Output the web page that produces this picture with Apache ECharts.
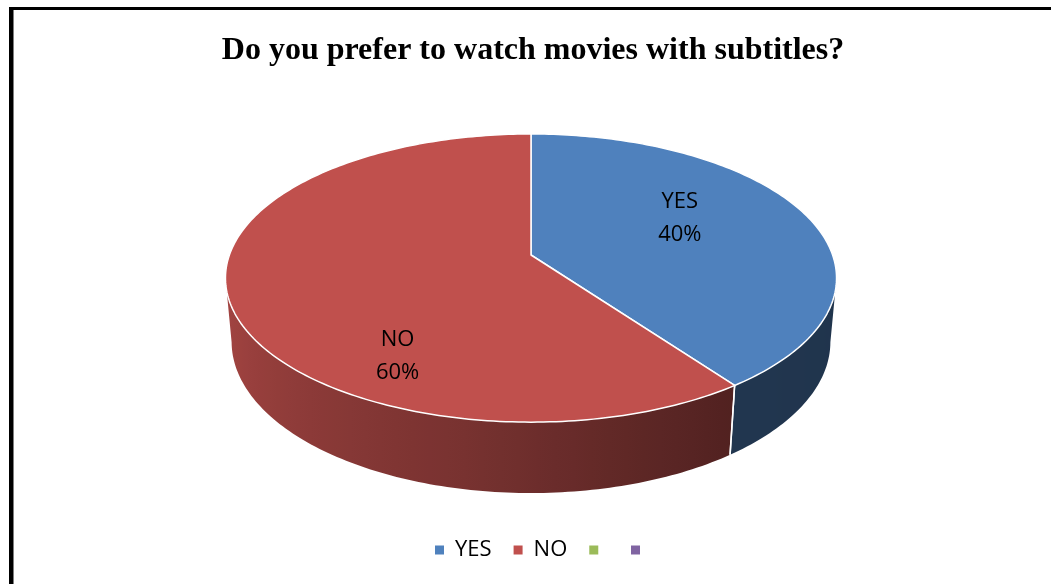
<!DOCTYPE html>
<html>
<head>
<meta charset="utf-8">
<script src="https://cdn.jsdelivr.net/npm/echarts@6/dist/echarts.min.js"></script>
<style>
  html, body { margin: 0; padding: 0; background: #fff; }
  #chart { width: 1051px; height: 584px; }
</style>
</head>
<body>
<div id="chart"></div>
<script>
// Survey answers
const chartTitle = 'Do you prefer to watch movies with subtitles?';
const categories = ['YES', 'NO', ' ', '  '];
const values = [40, 60, 0, 0];
const colors = ['#4f81bd', '#c0504d', '#9bbb59', '#8064a2'];

// Tilted-disc projection of the pie (perspective camera, pixels)
const pie = { cx: 531, cy: 255, A: 301.6, B: 140.4, k: 0.16, m: 0.02, H: 64.3 };
// Where each slice's label sits on the disc: angle clockwise from 12 o'clock, radius fraction
const labelAnchors = [{ angle: 61, r: 0.59 }, { angle: 212, r: 0.75 }, null, null];
// Side-wall lighting: [angle, brightness factor]
const shadeStops = [[0, 0.40], [99, 0.40], [144, 0.42], [165, 0.50], [190, 0.62], [215, 0.71], [240, 0.80], [262, 0.87], [360, 0.88]];

const total = values.reduce((a, b) => a + b, 0);
const starts = [];
values.reduce((acc, v, i) => { starts[i] = acc; return acc + v; }, 0);

function project(theta, r, d) {
  const t = theta * Math.PI / 180;
  const u = r * Math.sin(t), v = -r * Math.cos(t);
  const w = 1 - pie.k * v + pie.m * d;
  return [pie.cx + pie.A * u / w, pie.cy + (pie.B * v + pie.H * d) / w];
}

function shade(theta) {
  for (let i = 1; i < shadeStops.length; i++) {
    const [a0, f0] = shadeStops[i - 1], [a1, f1] = shadeStops[i];
    if (theta <= a1) return f0 + (f1 - f0) * (theta - a0) / (a1 - a0);
  }
  return shadeStops[shadeStops.length - 1][1];
}

function darken(hex, f) {
  const n = parseInt(hex.slice(1), 16);
  const r = Math.round(((n >> 16) & 255) * f), g = Math.round(((n >> 8) & 255) * f), b = Math.round((n & 255) * f);
  return 'rgb(' + r + ',' + g + ',' + b + ')';
}

// Front part of the wall that faces the viewer
const tangent = Math.acos(-pie.k) * 180 / Math.PI;      // ~99.2 deg
const visFrom = tangent, visTo = 360 - tangent;

function arc(a, b, r, d) {
  const pts = [];
  const n = Math.max(2, Math.ceil((b - a) / 1));
  for (let j = 0; j <= n; j++) pts.push(project(a + (b - a) * j / n, r, d));
  return pts;
}

function renderSlice(i) {
  const children = [];
  if (values[i] <= 0) return { type: 'group', children };
  const a = starts[i] / total * 360;
  const b = (starts[i] + values[i]) / total * 360;
  const color = colors[i];

  // side wall
  const s = Math.max(a, visFrom), e = Math.min(b, visTo);
  if (e > s) {
    const top = arc(s, e, 1, 0);
    const bottom = arc(s, e, 1, 1).reverse();
    const xRight = project(s, 1, 0)[0], xLeft = project(e, 1, 0)[0];
    const stops = [];
    const n = 40;
    for (let j = 0; j <= n; j++) {
      const th = e - (e - s) * j / n;
      const x = project(th, 1, 0)[0];
      stops.push({ offset: Math.min(1, Math.max(0, (x - xLeft) / (xRight - xLeft))), color: darken(color, shade(th)) });
    }
    stops.sort((p, q) => p.offset - q.offset);
    children.push({
      type: 'polygon', z2: 1,
      shape: { points: top.concat(bottom) },
      style: { fill: new echarts.graphic.LinearGradient(xLeft, 0, xRight, 0, stops, true), stroke: null }
    });
  }
  // seam on the wall where this slice begins / ends
  [a, b].forEach(function (ang) {
    if (ang > visFrom && ang < visTo) {
      const p0 = project(ang, 1, 0), p1 = project(ang, 1, 1);
      children.push({ type: 'line', z2: 5, shape: { x1: p0[0], y1: p0[1], x2: p1[0], y2: p1[1] },
        style: { stroke: '#fff', lineWidth: 1.5 } });
    }
  });

  // top face
  const topPts = [project(0, 0, 0)].concat(arc(a, b, 1, 0));
  children.push({
    type: 'polygon', z2: 10,
    shape: { points: topPts },
    style: { fill: color, stroke: '#fff', lineWidth: 1.5, lineJoin: 'round' }
  });

  // data label
  const anchor = labelAnchors[i];
  if (anchor) {
    const p = project(anchor.angle, anchor.r, 0);
    children.push({
      type: 'text', z2: 30, x: p[0], y: p[1] + 2,
      style: {
        text: categories[i] + '\n' + Math.round(values[i] / total * 100) + '%',
        fill: '#000', font: '22px "Open Sans"', align: 'center', verticalAlign: 'middle', lineHeight: 33
      }
    });
  }
  return { type: 'group', children };
}

const chart = echarts.init(document.getElementById('chart'), null, { renderer: 'canvas' });
chart.setOption({
  animation: false,
  backgroundColor: '#fff',
  color: colors,
  title: {
    text: chartTitle, left: 533, top: 35, textAlign: 'center', padding: 0,
    textStyle: { fontFamily: '"Liberation Serif", "Times New Roman", serif', fontWeight: 'bold', fontSize: 32, color: '#000' }
  },
  legend: {
    data: categories.map(function (name, i) { return i < 2 ? name : { name: name, textStyle: { padding: 0 } }; }),
    left: 435, top: 539, padding: 0, orient: 'horizontal',
    icon: 'rect', itemWidth: 9, itemHeight: 9, itemGap: 22, selectedMode: false,
    textStyle: { fontFamily: '"Open Sans"', fontSize: 22, color: '#000', padding: [0, 0, 0, 6] }
  },
  graphic: [
    { type: 'rect', shape: { x: 9, y: 7, width: 4.5, height: 600 }, style: { fill: '#000' }, silent: true },
    { type: 'rect', shape: { x: 9, y: 7, width: 1100, height: 3 }, style: { fill: '#000' }, silent: true }
  ],
  series: categories.map(function (name, i) {
    return {
      type: 'custom', name: name, coordinateSystem: 'none', silent: true,
      data: [[values[i]]],
      renderItem: function () { return renderSlice(i); }
    };
  })
});
</script>
</body>
</html>
